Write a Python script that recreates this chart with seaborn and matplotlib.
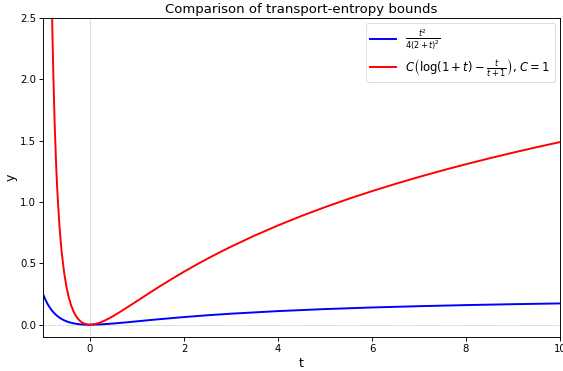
import numpy as np
import pandas as pd
import matplotlib
matplotlib.use("Agg")
import matplotlib.pyplot as plt
import seaborn as sns

# Values
t_blue = [-1.0, -0.95, -0.9, -0.85, -0.8, -0.75, -0.7, -0.65, -0.6, -0.55, -0.5, -0.45,
          -0.4, -0.35, -0.3, -0.25, -0.2, -0.1, 0.0, 0.25, 0.5, 0.75, 1.0, 1.25, 1.5,
          2.0, 2.5, 3.0, 4.0, 5.0, 6.0, 7.0, 8.0, 9.0, 10.0]
y_blue = [0.25, 0.2047, 0.1674, 0.1366, 0.1111, 0.09, 0.0725, 0.058, 0.0459, 0.036, 0.0278, 0.0211,
          0.0156, 0.0113, 0.0078, 0.0051, 0.0031, 0.0007, 0.0, 0.0031, 0.01, 0.0186, 0.0278, 0.037, 0.0459,
          0.0625, 0.0772, 0.09, 0.1111, 0.1276, 0.1406, 0.1512, 0.16, 0.1674, 0.1736]

t_red = [-0.9, -0.88, -0.85, -0.82, -0.8, -0.78, -0.75, -0.72, -0.7, -0.68, -0.65, -0.62,
         -0.6, -0.55, -0.5, -0.45, -0.4, -0.35, -0.3, -0.25, -0.2, -0.15, -0.1, -0.05,
         0.0, 0.1, 0.2, 0.3, 0.4, 0.5, 0.6, 0.8, 1.0, 1.25, 1.5, 1.75, 2.0, 2.25, 2.5,
         2.75, 3.0, 3.5, 4.0, 4.5, 5.0, 5.5, 6.0, 6.5, 7.0, 7.5, 8.0, 8.5, 9.0, 9.5, 10.0]
y_red = [6.697, 5.213, 3.770, 2.841, 2.391, 2.031, 1.614, 1.298, 1.129, 0.986, 0.807, 0.664,
         0.584, 0.424, 0.307, 0.220, 0.156, 0.108, 0.0719, 0.0457, 0.0269, 0.0140, 0.0058, 0.0013,
         0.0, 0.0044, 0.0157, 0.0316, 0.0508, 0.0721, 0.0950, 0.1434, 0.1931, 0.2554, 0.3163, 0.3752,
         0.4319, 0.4863, 0.5385, 0.5884, 0.6363, 0.7263, 0.8094, 0.8866, 0.9584, 1.0257, 1.0888,
         1.1482, 1.2044, 1.2577, 1.3083, 1.3566, 1.4026, 1.4466, 1.4888]

label_blue = r"$\frac{t^2}{4(2+t)^2}$"
label_red = r"$C\left(\log(1+t)-\frac{t}{t+1}\right)$, $C=1$"

df_b = pd.DataFrame({"t": t_blue, "y": y_blue})
df_r = pd.DataFrame({"t": t_red, "y": y_red})

DPI = 56
fig = plt.figure(figsize=(563 / DPI, 371 / DPI), dpi=DPI)
ax = fig.add_axes([43 / 563, 1 - 337 / 371, (560 - 43) / 563, (337 - 18) / 371])

ax.axhline(0, color="gray", linestyle=":", linewidth=0.8)
ax.axvline(0, color="gray", linestyle=":", linewidth=0.8)
sns.lineplot(data=df_b, x="t", y="y", ax=ax, color="blue", linewidth=2.5, label=label_blue)
sns.lineplot(data=df_r, x="t", y="y", ax=ax, color="red", linewidth=2.5, label=label_red)

ax.set_xlim(-1, 10)
ax.set_ylim(-0.1, 2.5)
ax.set_xticks([0, 2, 4, 6, 8, 10])
ax.set_yticks([0.0, 0.5, 1.0, 1.5, 2.0, 2.5])
ax.tick_params(labelsize=13, width=1.2, length=5)
for s in ax.spines.values():
    s.set_linewidth(1.2)
ax.set_xlabel("t", fontsize=16)
ax.set_ylabel("y", fontsize=16)
ax.set_title("Comparison of transport-entropy bounds", fontsize=17)
ax.legend(loc="upper right", fontsize=15, labelspacing=0.4, handlelength=2.2, borderaxespad=0.4)

fig.savefig("out.png", dpi=DPI)
